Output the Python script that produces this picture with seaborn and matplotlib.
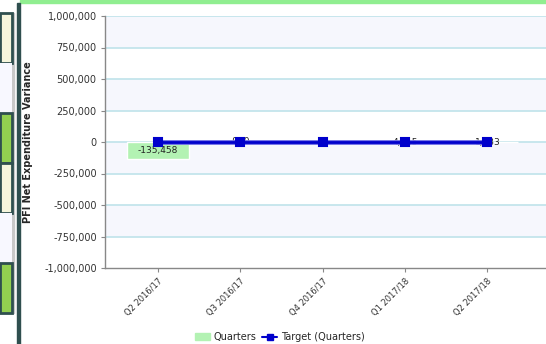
import numpy as np
import pandas as pd
import seaborn as sns
import matplotlib.pyplot as plt
from matplotlib.patches import Rectangle, Patch
from matplotlib.lines import Line2D

# datos
quarters = ["Q2 2016/17", "Q3 2016/17", "Q4 2016/17", "Q1 2017/18", "Q2 2017/18"]
variance = [-135458, -930, 0, 4215, 1833]
target = [0, 0, 0, 0, 0]
value_labels = ["-135,458", "-930", "0", "4,215", "1,833"]
y_ticks = [-1000000, -750000, -500000, -250000, 0, 250000, 500000, 750000, 1000000]

df = pd.DataFrame({"Quarter": quarters, "Variance": variance, "Target": target})

sns.set_style("white")
plt.rcParams['font.family'] = ['DejaVu Sans']

fig = plt.figure(figsize=(5.46, 3.44), dpi=100)
W, H = 546, 344
ax = fig.add_axes([105 / W, 1 - 268 / H, 1 - 105 / W, (268 - 16) / H])

# bandas alternas de fondo
for i in range(len(y_ticks) - 1):
    if (i % 2) == 1:
        ax.axhspan(y_ticks[i], y_ticks[i + 1], color="#f6f7fd", zorder=0, lw=0)
for t in y_ticks[1:]:
    ax.axhline(t, color="#bfe3ea", lw=1.2, zorder=0.5)

sns.barplot(data=df, x="Quarter", y="Variance", color="#b3f2b3", width=0.75,
            saturation=1, ax=ax, zorder=1)
for i, lab in enumerate(value_labels):
    v = variance[i]
    y = v / 2 if v < -50000 else 0
    ax.text(i, y, lab, ha="center", va="center", fontsize=6.5, color="#222222", zorder=2)

# halo claro bajo la linea
sns.pointplot(data=df, x="Quarter", y="Target", color="#6f6fe6", markers="",
              linewidth=3.5, ax=ax, zorder=2.5)
sns.pointplot(data=df, x="Quarter", y="Target", color="#0000cc", markers="s",
              markersize=6, linewidth=2, ax=ax, zorder=3)

ax.set_ylim(-1000000, 1000000)
ax.set_xlim(-0.64, 4.71)
ax.set_yticks(y_ticks)
ax.set_yticklabels([f"{t:,}" for t in y_ticks], fontsize=7, color="#333333")
ax.set_xticks(range(len(quarters)))
ax.set_xticklabels(quarters, rotation=45, ha="right", rotation_mode="anchor",
                   fontsize=6, color="#333333")
ax.tick_params(axis="both", length=3, color="#888888", left=True, bottom=True, pad=3)
ax.set_xlabel("")
ax.set_ylabel("PFI Net Expenditure Variance", fontsize=7, fontweight="bold", labelpad=8)
for s in ["top", "right"]:
    ax.spines[s].set_visible(False)
for s in ["left", "bottom"]:
    ax.spines[s].set_color("#888888")
    ax.spines[s].set_linewidth(1)

handles = [Patch(color="#b3f2b3", label="Quarters"),
           Line2D([0], [0], color="#0000cc", marker="s", markersize=5, lw=1.5,
                  label="Target (Quarters)")]
fig.legend(handles=handles, loc="center", bbox_to_anchor=(280 / W, 1 - 337 / H),
           ncol=2, frameon=False, fontsize=7, handlelength=1.5, handletextpad=0.4,
           columnspacing=0.6)

# franja superior y panel lateral del tablero
fig.patches.append(Rectangle((20 / W, 1 - 3 / H), 1, 3 / H, transform=fig.transFigure,
                             color="#90ee90", zorder=5))
fig.patches.append(Rectangle((17 / W, 0), 2.5 / W, 1 - 3 / H, transform=fig.transFigure,
                             color="#2f4f4f", zorder=5))
boxes = [(13, 63, "#f5f5dc"), (63, 113, "#f8f8ff"), (113, 163, "#92d050"),
         (163, 213, "#f5f5dc"), (213, 263, "#f8f8ff"), (263, 313, "#92d050")]
for y0, y1, c in boxes:
    framed = c != "#f8f8ff"
    fig.patches.append(Rectangle((0, 1 - y1 / H), 11.5 / W, (y1 - y0) / H,
                                 transform=fig.transFigure, facecolor=c,
                                 edgecolor="#2f4f4f" if framed else "none",
                                 lw=2 if framed else 0, zorder=5))
fig.patches.append(Rectangle((12 / W, 1 - 313 / H), 1.5 / W, 300 / H,
                             transform=fig.transFigure, color="#c8c8c8", zorder=4))

fig.savefig("out.png", dpi=100)
